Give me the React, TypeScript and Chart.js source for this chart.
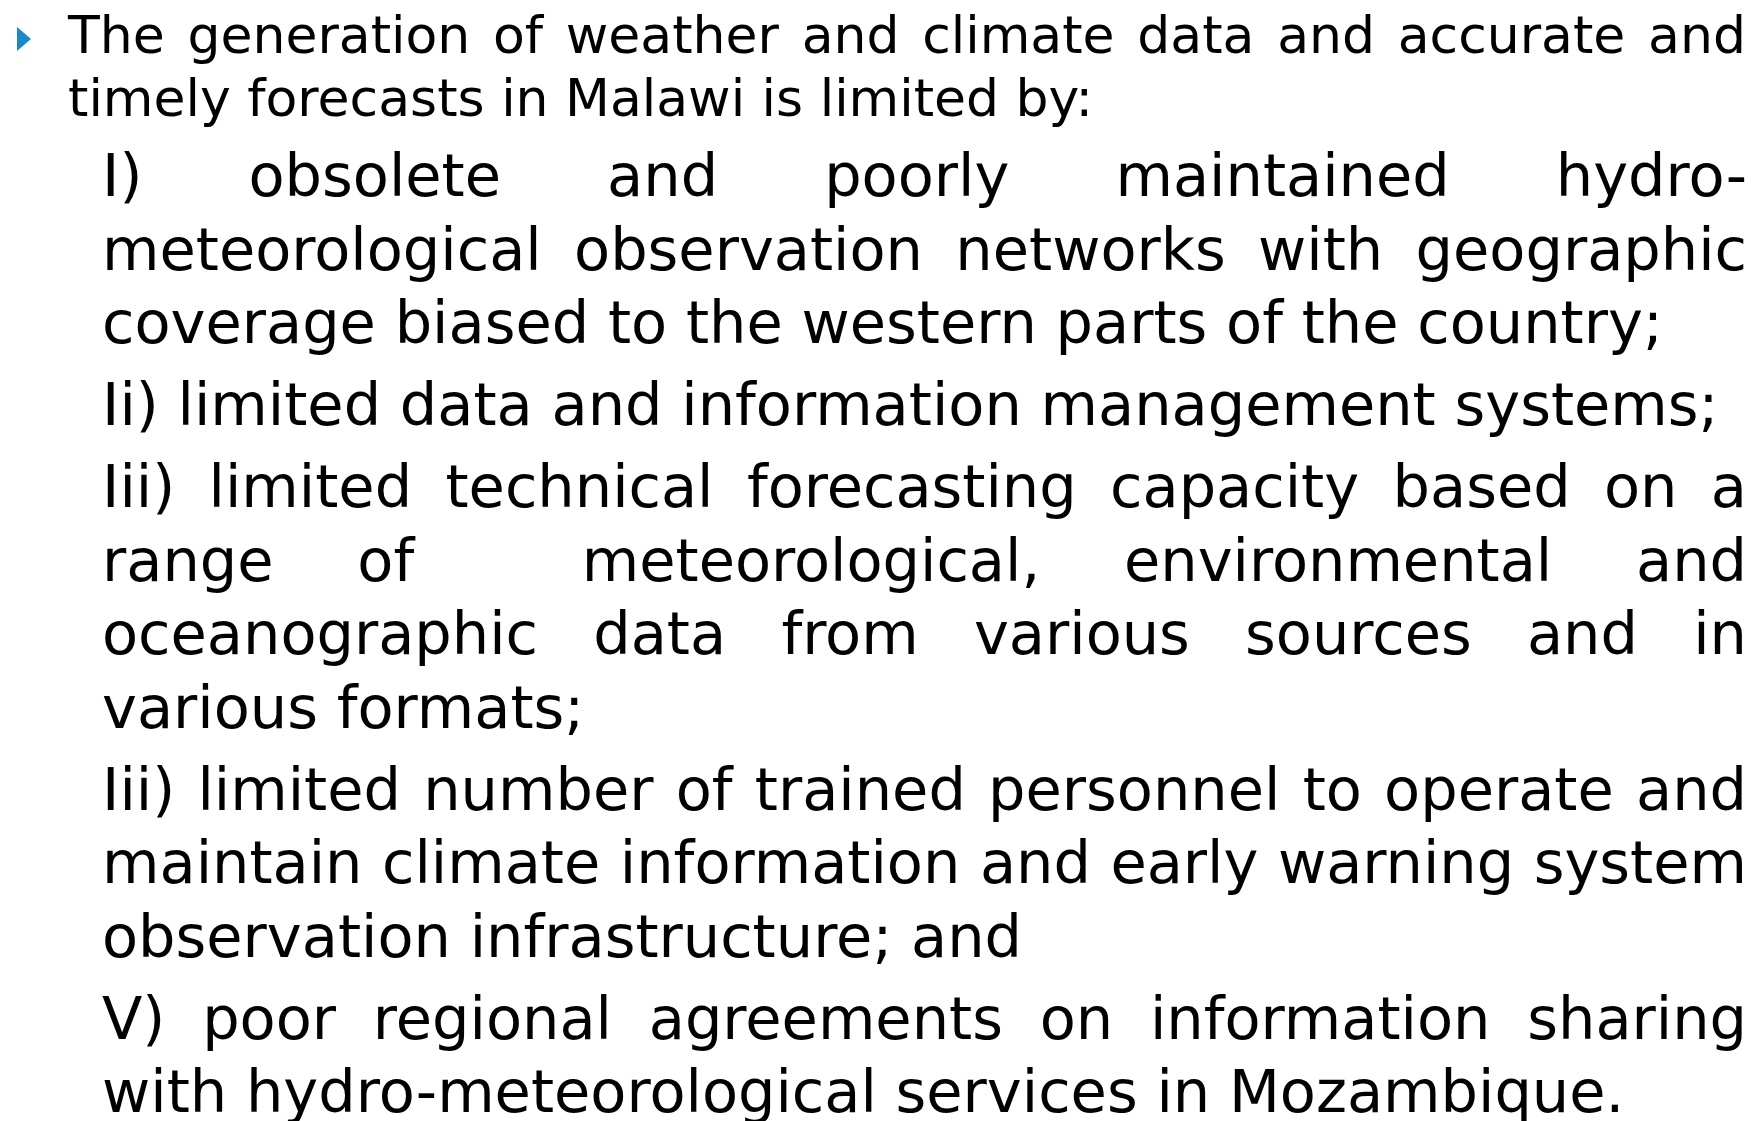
import React, { useEffect, useRef } from "react";
import { Chart, registerables } from "chart.js";

Chart.register(...registerables);

// ---- content (text lines as they break on the slide) ----
const INTRO_LINES: string[] = [
  "The generation of weather and climate data and accurate and",
  "timely forecasts in Malawi is limited by:",
];
const ITEM_1_LINES: string[] = [
  "I) obsolete and poorly maintained hydro-",
  "meteorological observation networks with geographic",
  "coverage biased to the western parts of the country;",
];
const ITEM_2_LINES: string[] = [
  "Ii) limited data and information management systems;",
];
const ITEM_3_LINES: string[] = [
  "Iii) limited technical forecasting capacity based on a",
  "range of  meteorological, environmental and",
  "oceanographic data from various sources and in",
  "various formats;",
];
const ITEM_4_LINES: string[] = [
  "Iii) limited number of trained personnel to operate and",
  "maintain climate information and early warning system",
  "observation infrastructure; and",
];
const ITEM_5_LINES: string[] = [
  "V) poor regional agreements on information sharing",
  "with hydro-meteorological services in Mozambique.",
];
const ITEMS: string[][] = [ITEM_1_LINES, ITEM_2_LINES, ITEM_3_LINES, ITEM_4_LINES, ITEM_5_LINES];

// bullet marker (one point)
const BULLET_X: number[] = [0];
const BULLET_Y: number[] = [0];
const BULLET_COLOR = "#1b88c8";

const FONT = "'DejaVu Sans', 'Open Sans', sans-serif";

function Line({ text, justify }: { text: string; justify: boolean }) {
  if (!justify) {
    return <div style={{ whiteSpace: "pre" }}>{text}</div>;
  }
  const tokens = text.split(" ");
  const parts: React.ReactNode[] = [];
  tokens.forEach((t, i) => {
    if (i > 0) parts.push(<span key={"s" + i} style={{ flexGrow: 1, minWidth: "0.2em" }} />);
    if (t.length) parts.push(<span key={"w" + i}>{t}</span>);
  });
  return <div style={{ display: "flex", whiteSpace: "pre" }}>{parts}</div>;
}

function Paragraph({ lines }: { lines: string[] }) {
  return (
    <div>
      {lines.map((l, i) => (
        <Line key={i} text={l} justify={i < lines.length - 1} />
      ))}
    </div>
  );
}

function Bullet() {
  const ref = useRef<HTMLCanvasElement | null>(null);
  useEffect(() => {
    if (!ref.current) return;
    const img = document.createElement("canvas");
    img.width = 14;
    img.height = 24;
    const c = img.getContext("2d")!;
    c.fillStyle = BULLET_COLOR;
    c.beginPath();
    c.moveTo(0, 0);
    c.lineTo(14, 12);
    c.lineTo(0, 24);
    c.closePath();
    c.fill();
    const chart = new Chart(ref.current, {
      type: "scatter",
      data: {
        datasets: [
          {
            data: BULLET_X.map((x, i) => ({ x, y: BULLET_Y[i] })),
            pointStyle: img as any,
            backgroundColor: BULLET_COLOR,
            borderColor: BULLET_COLOR,
          },
        ],
      },
      options: {
        animation: false,
        responsive: false,
        maintainAspectRatio: false,
        events: [],
        layout: { padding: 0 },
        plugins: { legend: { display: false }, tooltip: { enabled: false } },
        scales: {
          x: { display: false, min: -1, max: 1 },
          y: { display: false, min: -1, max: 1 },
        },
      },
    });
    return () => chart.destroy();
  }, []);
  return (
    <canvas
      ref={ref}
      width={48}
      height={78}
      style={{ position: "absolute", left: 0, top: 0, width: 48, height: 78 }}
    />
  );
}

export default function App() {
  return (
    <div
      style={{
        position: "absolute",
        left: 0,
        top: 0,
        width: 1754,
        height: 1121,
        overflow: "hidden",
        background: "#ffffff",
        color: "#000000",
        fontFamily: FONT,
      }}
    >
      <Bullet />
      <div
        style={{
          position: "absolute",
          left: 68,
          top: 3.5,
          width: 1678,
          fontSize: 52,
          lineHeight: "63px",
        }}
      >
        <Paragraph lines={INTRO_LINES} />
      </div>
      <div
        style={{
          position: "absolute",
          left: 102,
          top: 139,
          width: 1645,
          fontSize: 59,
          lineHeight: "73.5px",
        }}
      >
        {ITEMS.map((lines, i) => (
          <div key={i} style={{ marginTop: i === 0 ? 0 : 8.5 }}>
            <Paragraph lines={lines} />
          </div>
        ))}
      </div>
    </div>
  );
}
